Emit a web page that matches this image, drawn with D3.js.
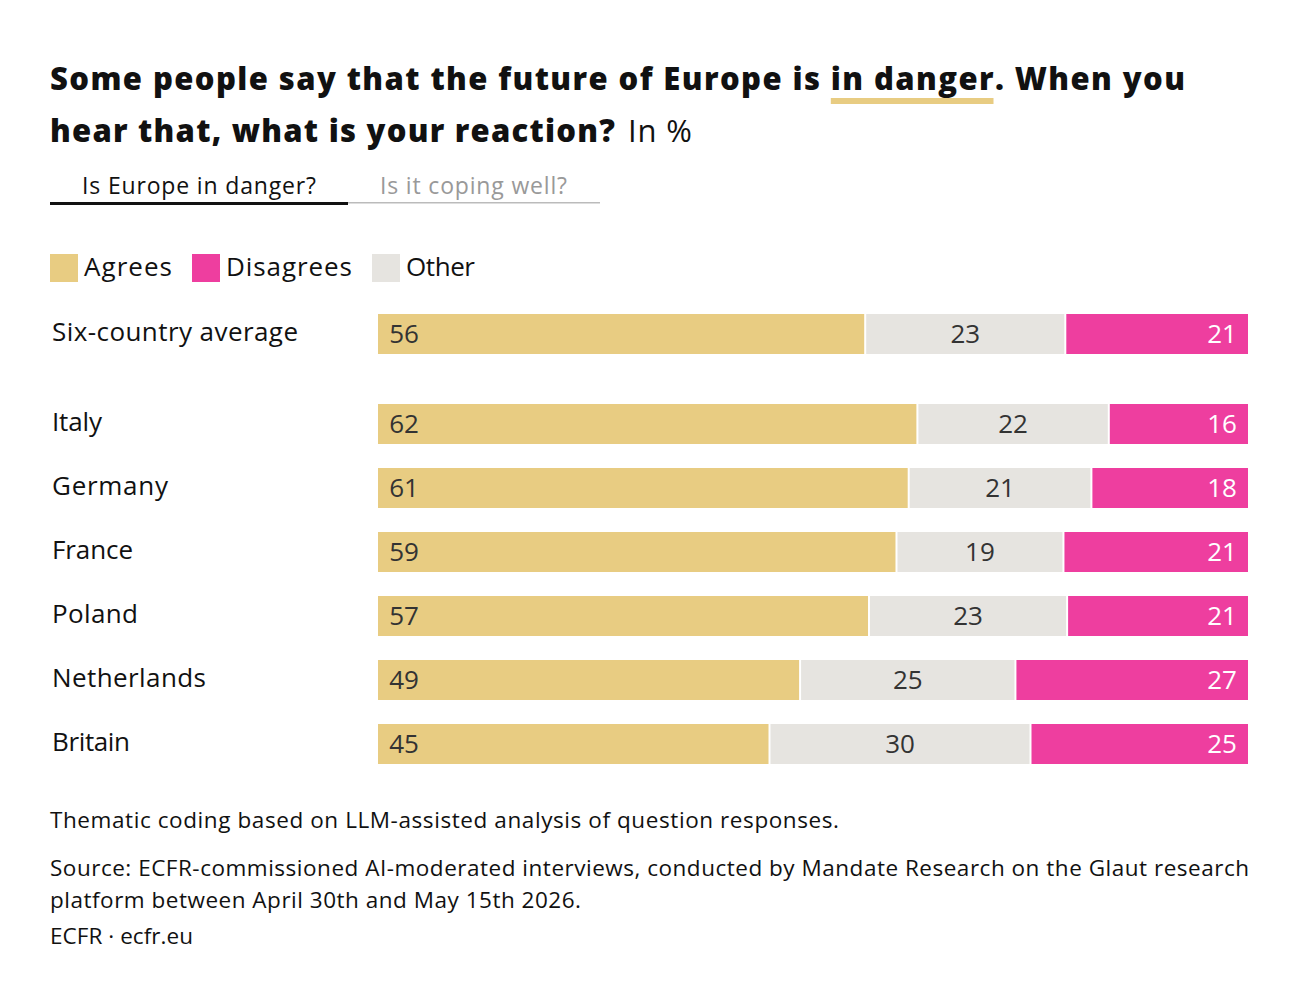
<!DOCTYPE html>
<html><head><meta charset="utf-8">
<script src="https://cdn.jsdelivr.net/npm/d3@7"></script>
<style>body{margin:0;background:#fff;font-family:"Open Sans",Lato,sans-serif;}</style>
</head><body><div id="chart"></div>
<script>
const countries = ["Six-country average", "Italy", "Germany", "France", "Poland", "Netherlands", "Britain"];
const agrees = [56, 62, 61, 59, 57, 49, 45];
const other = [23, 22, 21, 19, 23, 25, 30];
const disagrees = [21, 16, 18, 21, 21, 27, 25];
const legendNames = ["Agrees", "Disagrees", "Other"];
const colors = { agrees: "#e8cc82", disagrees: "#ee3e9f", other: "#e6e4e0" };

const svg = d3.select("#chart").append("svg").attr("width", 1300).attr("height", 1002);

// helper: text stretched to a given width
function txt(x, y, size, s, w, opts = {}) {
  const e = svg.append("text").attr("x", x).attr("y", y).attr("font-size", size)
    .attr("fill", opts.fill || "#111").attr("font-weight", opts.weight || 400).text(s);
  if (w) e.attr("textLength", w).attr("lengthAdjust", "spacing");
  return e;
}

// title
const line1 = txt(50, 90, 31, "Some people say that the future of Europe is in danger. When you", 1135, { weight: 800 });
txt(50, 142, 31, "hear that, what is your reaction?", 565, { weight: 800 });
txt(628, 142, 31, "In %", 64);
const node = line1.node();
const str = node.textContent, i0 = str.indexOf("in danger"), i1 = i0 + 8;
const e0 = node.getExtentOfChar(i0), e1 = node.getExtentOfChar(i1);
svg.insert("rect", "text").attr("x", e0.x).attr("y", 98).attr("width", e1.x + e1.width - e0.x).attr("height", 6).attr("fill", colors.agrees);

// tabs
txt(82, 194, 23, "Is Europe in danger?", 234);
txt(380, 194, 23, "Is it coping well?", 187, { fill: "#999" });
svg.append("rect").attr("x", 348).attr("y", 202).attr("width", 252).attr("height", 1.5).attr("fill", "#bbb");
svg.append("rect").attr("x", 50).attr("y", 202).attr("width", 298).attr("height", 3).attr("fill", "#111");

// legend
const legendCols = [colors.agrees, colors.disagrees, colors.other];
const legendX = [50, 192, 372];
const legendW = [88, 126, 69];
legendNames.forEach((n, i) => {
  svg.append("rect").attr("x", legendX[i]).attr("y", 254).attr("width", 28).attr("height", 28).attr("fill", legendCols[i]);
  txt(legendX[i] + 34, 276, 26, n, legendW[i]);
});

// bars
const rowY = d => d === 0 ? 314 : 404 + (d - 1) * 64;
const barH = 40;
const x0 = 378, x1 = 1248;
const labelW = [246, 50, 116, 81, 86, 154, 78];
const rows = countries.map((c, i) => ({ c, i, segs: [
  { k: "agrees", v: agrees[i] }, { k: "other", v: other[i] }, { k: "disagrees", v: disagrees[i] }] }));

rows.forEach(r => {
  const total = d3.sum(r.segs, s => s.v);
  const x = d3.scaleLinear().domain([0, total]).range([x0, x1]);
  let acc = 0;
  r.segs.forEach(s => { s.a = acc; acc += s.v; s.b = acc; });
  const y = rowY(r.i);
  txt(52, y + barH / 2 + 7, 26, r.c, labelW[r.i]);
  const g = svg.append("g");
  g.selectAll("rect").data(r.segs).join("rect")
    .attr("x", s => x(s.a) + (s.a > 0 ? 1 : 0))
    .attr("y", y)
    .attr("width", s => x(s.b) - x(s.a) - (s.a > 0 ? 1 : 0) - (s.b < total ? 1 : 0))
    .attr("height", barH)
    .attr("fill", s => colors[s.k]);
  g.selectAll("text").data(r.segs).join("text")
    .attr("x", (s, j) => j === 0 ? x(s.a) + 26 : j === 1 ? (x(s.a) + x(s.b)) / 2 : x(s.b) - 26)
    .attr("y", y + barH / 2 + 9)
    .attr("text-anchor", "middle")
    .attr("font-size", 26)
    .attr("fill", s => s.k === "disagrees" ? "#fff" : "#333")
    .text(s => s.v);
});

// footer
const foot = [
  [828, "Thematic coding based on LLM-assisted analysis of question responses.", 789],
  [876, "Source: ECFR-commissioned AI-moderated interviews, conducted by Mandate Research on the Glaut research", 1199],
  [908, "platform between April 30th and May 15th 2026.", 531],
  [944, "ECFR · ecfr.eu", 143]
];
foot.forEach(([y, s, w]) => txt(50, y, 22.5, s, w));
</script></body></html>
